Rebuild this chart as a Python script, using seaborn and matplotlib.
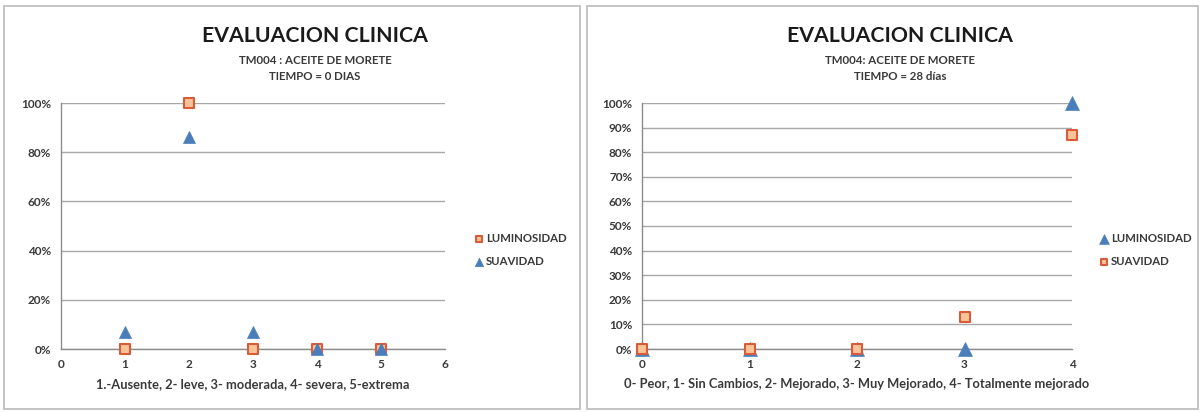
import pandas as pd
import numpy as np
import seaborn as sns
import matplotlib.pyplot as plt
from matplotlib.patches import Rectangle

# data
# left chart: time = 0 days
x_left = [1, 2, 3, 4, 5]
lum_left = [0, 100, 0, 0, 0]
suav_left = [7, 86, 7, 0, 0]
# right chart: time = 28 days
x_right = [0, 1, 2, 3, 4]
lum_right = [0, 0, 0, 0, 100]
suav_right = [0, 0, 0, 13, 87]

xlabel_left = '1.-Ausente, 2- leve, 3- moderada, 4- severa, 5-extrema'
xlabel_right = '0- Peor, 1- Sin Cambios, 2- Mejorado, 3- Muy Mejorado, 4- Totalmente mejorado'

sns.set_style('white')
plt.rcParams['font.family'] = ['Lato', 'DejaVu Sans']

sq_face = '#F8C497'
sq_edge = '#DA5A3A'
tri_col = '#4A7EBB'
txt = '#3a3a3a'

W, H = 1203, 412
fig = plt.figure(figsize=(W / 100, H / 100), dpi=100)

# panel borders
for x0, x1 in [(4, 580), (587, 1198)]:
    fig.patches.append(Rectangle((x0 / W, 3 / H), (x1 - x0) / W, 403 / H, transform=fig.transFigure,
                                 fill=False, edgecolor='#BFBFBF', linewidth=1.3))


def style_ax(ax, yticks, xlim, xticks, xlabel):
    ax.set_ylim(0, 100)
    ax.set_xlim(*xlim)
    ax.set_yticks(yticks)
    ax.set_yticklabels([f'{t}%' for t in yticks], fontsize=8.5, color=txt, fontweight='bold')
    ax.set_xticks(xticks)
    ax.set_xticklabels([str(t) for t in xticks], fontsize=8.5, color=txt, fontweight='bold')
    ax.grid(axis='y', color='#A8A8A8', linewidth=1.0)
    ax.set_axisbelow(True)
    for s in ['top', 'right']:
        ax.spines[s].set_visible(False)
    for s in ['left', 'bottom']:
        ax.spines[s].set_color('#8C8C8C')
        ax.spines[s].set_linewidth(1.0)
    ax.tick_params(axis='both', length=4, color='#8C8C8C', direction='out', pad=3)
    ax.set_xlabel(xlabel, fontsize=9.3, fontweight='bold', color=txt, labelpad=6)
    ax.set_ylabel('')


def add_legend(ax, x_px):
    leg = ax.legend(loc='center left', bbox_to_anchor=(x_px / W, 1 - 250 / H), bbox_transform=fig.transFigure,
                    frameon=False, prop={'size': 8.2, 'weight': 'bold'}, handlelength=0.8,
                    handletextpad=0.2, labelspacing=1.0, borderpad=0, markerscale=0.7)
    for t in leg.get_texts():
        t.set_color(txt)


def add_titles(xc, sub1, sub2):
    fig.text(xc / W, 1 - 36 / H, 'EVALUACION CLINICA', ha='center', va='center', fontsize=15.3,
             fontweight='bold', color='#1a1a1a')
    fig.text(xc / W, 1 - 60 / H, sub1, ha='center', va='center', fontsize=8.3,
             fontweight='bold', color=txt)
    fig.text(xc / W, 1 - 76 / H, sub2, ha='center', va='center', fontsize=8.3,
             fontweight='bold', color=txt)


# left chart
ax1 = fig.add_axes([61 / W, 1 - 349 / H, 384 / W, 246 / H])
sns.scatterplot(x=x_left, y=lum_left, ax=ax1, marker='s', s=50, color=sq_face,
                edgecolor=sq_edge, linewidth=1.5, label='LUMINOSIDAD', zorder=3, clip_on=False)
sns.scatterplot(x=x_left, y=suav_left, ax=ax1, marker='^', s=75, color=tri_col,
                edgecolor=tri_col, linewidth=0.5, label='SUAVIDAD', zorder=4, clip_on=False)
style_ax(ax1, range(0, 101, 20), (0, 6), range(0, 7), xlabel_left)
add_legend(ax1, 469)
add_titles(315, 'TM004 : ACEITE DE MORETE', 'TIEMPO = 0 DIAS')

# right chart
ax2 = fig.add_axes([642 / W, 1 - 349 / H, 430 / W, 246 / H])
sns.scatterplot(x=x_right, y=lum_right, ax=ax2, marker='^', s=100, color=tri_col,
                edgecolor=tri_col, linewidth=0.5, label='LUMINOSIDAD', zorder=3, clip_on=False)
sns.scatterplot(x=x_right, y=suav_right, ax=ax2, marker='s', s=50, color=sq_face,
                edgecolor=sq_edge, linewidth=1.5, label='SUAVIDAD', zorder=4, clip_on=False)
style_ax(ax2, range(0, 101, 10), (0, 4), range(0, 5), xlabel_right)
add_legend(ax2, 1094)
add_titles(900, 'TM004: ACEITE DE MORETE', 'TIEMPO = 28 días')

fig.savefig('out.png', dpi=100)
